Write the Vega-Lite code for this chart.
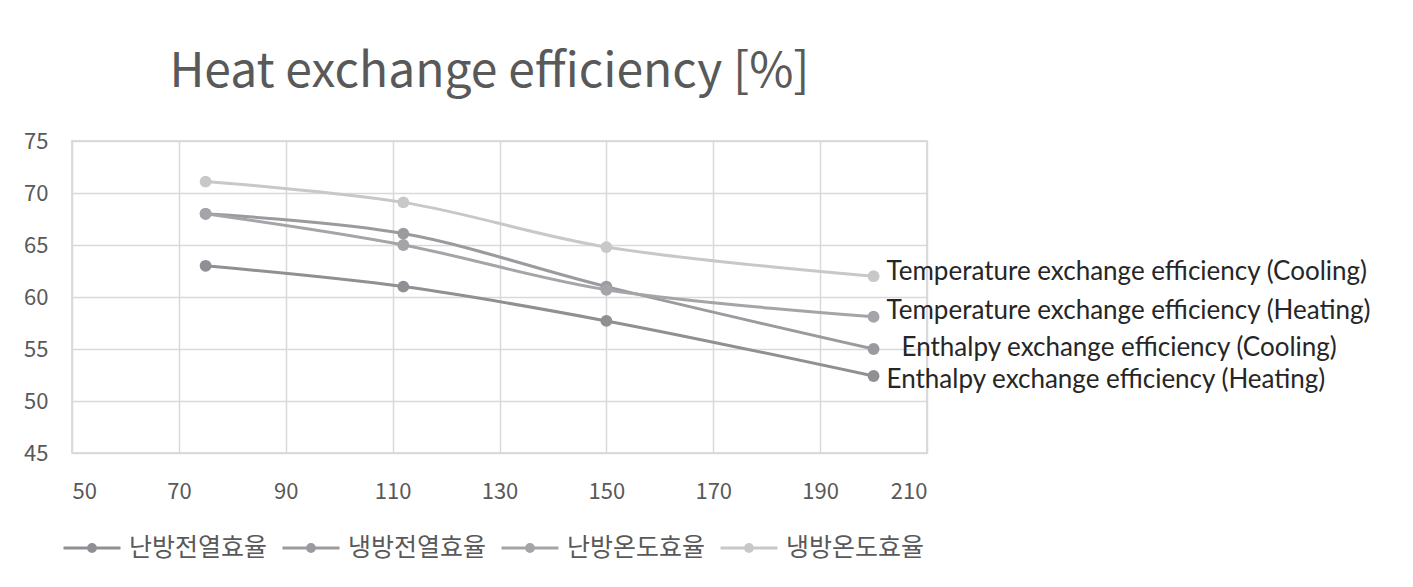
{
  "$schema": "https://vega.github.io/schema/vega-lite/v6.json",
  "width": 855,
  "height": 312,
  "autosize": {"type": "none"},
  "padding": {"left": 72, "top": 141, "right": 486, "bottom": 134},
  "background": "white",
  "title": {
    "text": "Heat exchange efficiency [%]",
    "font": "Noto Sans CJK KR",
    "fontSize": 48,
    "fontWeight": "normal",
    "color": "#595959",
    "anchor": "middle",
    "offset": 33,
    "dx": -10
  },
  "datasets": {
    "series": [
      {"series": "난방전열효율", "airflow": 75, "eff": 63.0},
      {"series": "난방전열효율", "airflow": 112, "eff": 61.0},
      {"series": "난방전열효율", "airflow": 150, "eff": 57.7},
      {"series": "난방전열효율", "airflow": 200, "eff": 52.4},
      {"series": "냉방전열효율", "airflow": 75, "eff": 68.0},
      {"series": "냉방전열효율", "airflow": 112, "eff": 66.1},
      {"series": "냉방전열효율", "airflow": 150, "eff": 61.0},
      {"series": "냉방전열효율", "airflow": 200, "eff": 55.0},
      {"series": "난방온도효율", "airflow": 75, "eff": 68.0},
      {"series": "난방온도효율", "airflow": 112, "eff": 65.0},
      {"series": "난방온도효율", "airflow": 150, "eff": 60.7},
      {"series": "난방온도효율", "airflow": 200, "eff": 58.1},
      {"series": "냉방온도효율", "airflow": 75, "eff": 71.1},
      {"series": "냉방온도효율", "airflow": 112, "eff": 69.1},
      {"series": "냉방온도효율", "airflow": 150, "eff": 64.8},
      {"series": "냉방온도효율", "airflow": 200, "eff": 62.0}
    ],
    "labels": [
      {"label": "Temperature exchange efficiency (Cooling)", "kind": "tc", "airflow": 200, "eff": 62.0},
      {"label": "Temperature exchange efficiency (Heating)", "kind": "th", "airflow": 200, "eff": 58.1},
      {"label": "Enthalpy exchange efficiency (Cooling)", "kind": "ec", "airflow": 200, "eff": 55.0},
      {"label": "Enthalpy exchange efficiency (Heating)", "kind": "eh", "airflow": 200, "eff": 52.4}
    ]
  },
  "config": {
    "font": "Noto Sans CJK KR",
    "view": {"stroke": "#d0d0d0", "strokeWidth": 1.5},
    "axis": {
      "labelFont": "Noto Sans CJK KR",
      "labelFontSize": 22,
      "labelColor": "#595959",
      "gridColor": "#d9d9d9",
      "gridWidth": 1.5,
      "domain": false,
      "ticks": false,
      "title": null
    }
  },
  "layer": [
    {
      "data": {"name": "series"},
      "mark": {"type": "line", "interpolate": "catmull-rom", "strokeWidth": 3, "point": {"size": 140, "filled": true, "opacity": 1}},
      "encoding": {
        "x": {
          "field": "airflow", "type": "quantitative",
          "scale": {"domain": [50, 210], "nice": false},
          "axis": {"values": [50, 70, 90, 110, 130, 150, 170, 190, 210], "labelPadding": 28}
        },
        "y": {
          "field": "eff", "type": "quantitative",
          "scale": {"domain": [45, 75], "nice": false, "zero": false},
          "axis": {"values": [45, 50, 55, 60, 65, 70, 75], "labelPadding": 24}
        },
        "color": {
          "field": "series", "type": "nominal",
          "sort": ["난방전열효율", "냉방전열효율", "난방온도효율", "냉방온도효율"],
          "scale": {
            "domain": ["난방전열효율", "냉방전열효율", "난방온도효율", "냉방온도효율"],
            "range": ["#8f8f94", "#9b9b9f", "#a5a5a9", "#c8c8ca"]
          },
          "legend": {
            "title": null,
            "orient": "none",
            "legendX": -10,
            "legendY": 377,
            "direction": "horizontal",
            "labelFont": "Noto Sans CJK KR",
            "labelFontSize": 25,
            "labelColor": "#595959",
            "symbolType": "M-1,0L1,0M-0.12,0A0.12,0.12 0 1,0 0.12,0A0.12,0.12 0 1,0 -0.12,0",
            "symbolSize": 3249,
            "symbolStrokeWidth": 3,
            "columnPadding": 8,
            "labelOffset": 7
          }
        },
        "order": {"field": "airflow", "type": "quantitative"}
      }
    },
    {
      "data": {"name": "labels"},
      "transform": [{"filter": "datum.kind === 'tc'"}],
      "mark": {"type": "text", "align": "left", "baseline": "middle", "dx": 13, "dy": -4, "fontSize": 26, "color": "#262626", "font": "Lato"},
      "encoding": {"x": {"field": "airflow", "type": "quantitative"}, "y": {"field": "eff", "type": "quantitative"}, "text": {"field": "label"}}
    },
    {
      "data": {"name": "labels"},
      "transform": [{"filter": "datum.kind === 'th'"}],
      "mark": {"type": "text", "align": "left", "baseline": "middle", "dx": 13, "dy": -6, "fontSize": 26, "color": "#262626", "font": "Lato"},
      "encoding": {"x": {"field": "airflow", "type": "quantitative"}, "y": {"field": "eff", "type": "quantitative"}, "text": {"field": "label"}}
    },
    {
      "data": {"name": "labels"},
      "transform": [{"filter": "datum.kind === 'ec'"}],
      "mark": {"type": "text", "align": "left", "baseline": "middle", "dx": 28, "dy": -1, "fontSize": 26, "color": "#262626", "font": "Lato"},
      "encoding": {"x": {"field": "airflow", "type": "quantitative"}, "y": {"field": "eff", "type": "quantitative"}, "text": {"field": "label"}}
    },
    {
      "data": {"name": "labels"},
      "transform": [{"filter": "datum.kind === 'eh'"}],
      "mark": {"type": "text", "align": "left", "baseline": "middle", "dx": 13, "dy": 4, "fontSize": 26, "color": "#262626", "font": "Lato"},
      "encoding": {"x": {"field": "airflow", "type": "quantitative"}, "y": {"field": "eff", "type": "quantitative"}, "text": {"field": "label"}}
    }
  ]
}
